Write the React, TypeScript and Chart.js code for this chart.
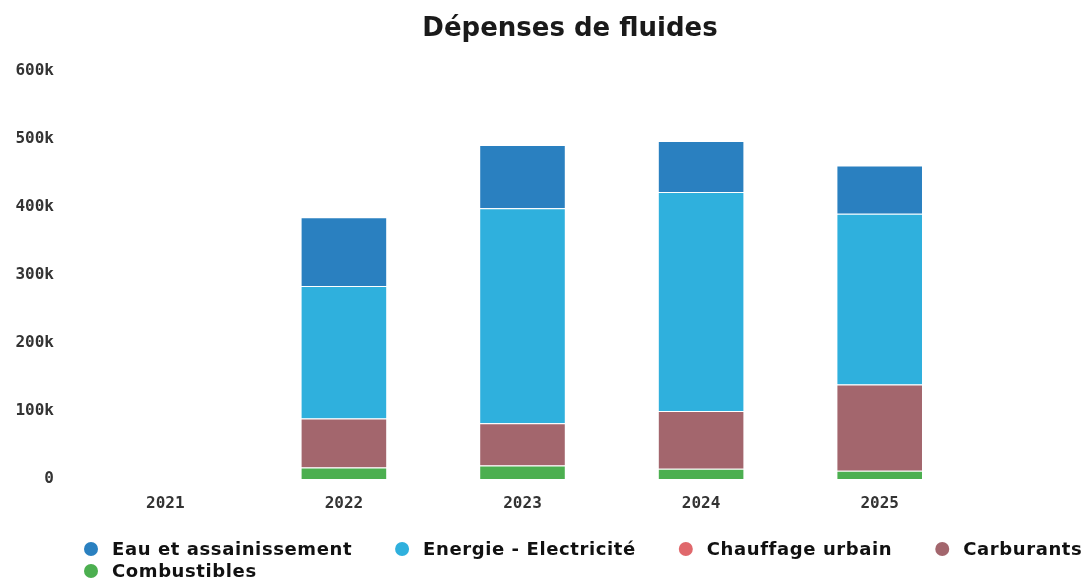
import React, { useEffect, useRef } from "react";
import { Chart, registerables } from "chart.js";

Chart.register(...registerables);

const TITLE = "Dépenses de fluides";
const years = ["2021", "2022", "2023", "2024", "2025"];
const seriesNames = [
  "Eau et assainissement",
  "Energie - Electricité",
  "Chauffage urbain",
  "Carburants",
  "Combustibles",
];
const eau = [0, 101000, 93000, 75000, 71000];
const energie = [0, 195000, 316000, 322000, 251000];
const chauffage = [0, 0, 0, 0, 0];
const carburants = [0, 72000, 62000, 85000, 127000];
const combustibles = [0, 17000, 20000, 15000, 12000];
const colors = ["#2a80c0", "#2fb0dd", "#e0686c", "#a3666d", "#4caf50"];
// stacking order: lower = closer to the axis
const stackOrder = [5, 4, 2, 3, 1];

const W = 1090;
const H = 588;

const customLegend = {
  id: "customLegend",
  afterDraw(chart: any) {
    const ctx = chart.ctx as CanvasRenderingContext2D;
    ctx.save();
    ctx.font = 'bold 18px "DejaVu Sans"';
    (ctx as any).letterSpacing = "0.6px";
    ctx.textBaseline = "middle";
    ctx.textAlign = "left";
    const startX = 84;
    let x = startX;
    let y = 549;
    chart.data.datasets.forEach((ds: any) => {
      const tw = ctx.measureText(ds.label).width;
      const itemW = 28 + tw;
      if (x > startX && x + itemW > chart.width - 3) {
        x = startX;
        y += 22;
      }
      ctx.fillStyle = ds.backgroundColor;
      ctx.beginPath();
      ctx.arc(x + 7, y, 7, 0, Math.PI * 2);
      ctx.fill();
      ctx.fillStyle = "#111111";
      ctx.fillText(ds.label, x + 28, y + 1);
      x += itemW + 43;
    });
    ctx.restore();
  },
};

export default function App() {
  const ref = useRef<HTMLCanvasElement | null>(null);

  useEffect(() => {
    if (!ref.current) return;
    const values = [eau, energie, chauffage, carburants, combustibles];
    const chart = new Chart(ref.current, {
      type: "bar",
      data: {
        labels: years,
        datasets: seriesNames.map((name, i) => ({
          label: name,
          data: values[i],
          backgroundColor: colors[i],
          borderColor: "#ffffff",
          borderWidth: 1,
          order: stackOrder[i],
          categoryPercentage: 0.8,
          barPercentage: 0.606,
        })),
      },
      options: {
        responsive: false,
        animation: false,
        layout: { padding: { left: 0, right: -50, top: 0, bottom: 69 } },
        plugins: {
          legend: { display: false },
          tooltip: { enabled: false },
          title: {
            display: true,
            text: TITLE,
            color: "#1a1a1a",
            font: { family: "DejaVu Sans", size: 26, weight: "bold" },
            padding: { top: 14, bottom: 25.8 },
          },
        },
        scales: {
          x: {
            stacked: true,
            grid: { display: false, drawTicks: true, tickLength: 8 },
            border: { display: false },
            ticks: {
              color: "#333333",
              padding: 7,
              font: { family: "DejaVu Sans Mono", size: 16, weight: "bold" },
            },
            afterFit: (scale: any) => {
              scale.height = 40;
              scale.paddingRight = 121;
            },
          },
          y: {
            stacked: true,
            min: 0,
            max: 600000,
            grid: { display: false, drawTicks: true, tickLength: 8 },
            border: { display: false },
            ticks: {
              stepSize: 100000,
              color: "#333333",
              padding: 14,
              font: { family: "DejaVu Sans Mono", size: 16, weight: "bold" },
              callback: (v: any) => (Number(v) === 0 ? "0" : Number(v) / 1000 + "k"),
            },
            afterFit: (scale: any) => {
              scale.width = 76;
            },
          },
        },
      },
      plugins: [customLegend],
    });
    return () => chart.destroy();
  }, []);

  return (
    <div
      style={{
        position: "absolute",
        left: 0,
        top: 0,
        width: W,
        height: H,
        background: "#ffffff",
        overflow: "hidden",
      }}
    >
      <canvas ref={ref} width={W} height={H} style={{ display: "block" }} />
    </div>
  );
}
